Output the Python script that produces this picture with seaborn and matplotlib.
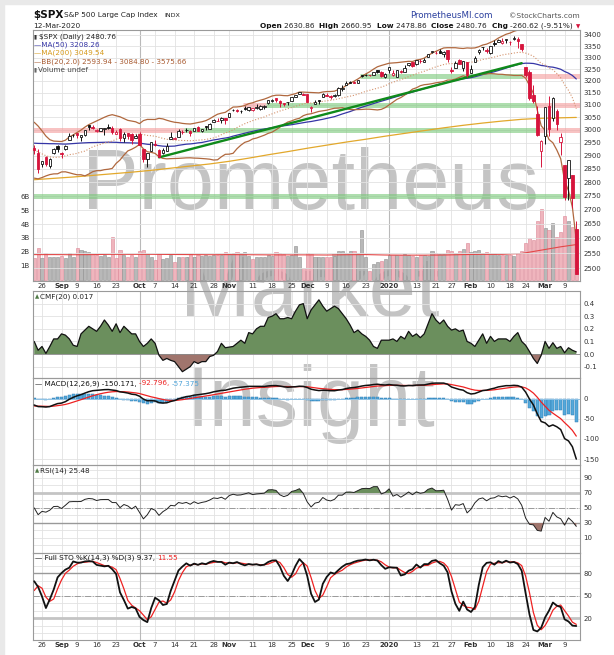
import numpy as np
import pandas as pd
import matplotlib
matplotlib.use('Agg')
import matplotlib.pyplot as plt
from matplotlib.ticker import NullLocator
from matplotlib.patches import Rectangle
import seaborn as sns

# ---------------- data ----------------
holidays = ['2019-09-02', '2019-11-28', '2019-12-25', '2020-01-01', '2020-01-20', '2020-02-17']
dates = pd.bdate_range('2019-08-22', '2020-03-12', freq='C', holidays=holidays)

# closes before the window, used only to seed the indicators
warm_close_early = [2879.84, 2891.64, 2886.98, 2889.67, 2917.75, 2926.46, 2954.18, 2950.46, 2945.35, 2917.38,
                    2913.78, 2924.92, 2941.76, 2964.33, 2973.01, 2995.82, 2990.41, 2975.95, 2979.63, 2993.07,
                    2999.91, 3013.77, 3014.30, 3004.04, 2984.42, 2995.11, 2976.61, 2985.03, 3005.47, 3019.56]
warm_close = [3003.67, 3025.86, 3020.97, 3013.18, 2980.38, 2953.56, 2932.05, 2844.74, 2881.77, 2883.98,
              2938.09, 2918.65, 2882.70, 2926.32, 2840.60, 2847.60, 2888.68, 2923.65, 2900.51, 2924.43]
warm_high = [3016.3, 3027.98, 3025.6, 3017.2, 3017.4, 3013.6, 2945.5, 2898.1, 2884.4, 2892.2,
             2938.7, 2935.8, 2907.6, 2943.3, 2893.9, 2865.9, 2893.6, 2931.0, 2927.0, 2928.7]
warm_low = [2997.2, 3012.6, 3014.3, 3000.9, 2958.1, 2945.2, 2914.1, 2822.1, 2847.4, 2825.7,
            2894.5, 2900.2, 2873.1, 2877.1, 2839.6, 2825.7, 2865.3, 2913.5, 2899.6, 2917.9]

open_ = [2930.9, 2911.1, 2866.7, 2893.1, 2861.3, 2910.4, 2937.1,
         2909.0, 2924.7, 2960.6, 2980.3, 2988.4, 2971.0, 2981.4, 3018.2, 3012.2, 2996.4, 2995.7, 3001.5, 3010.4, 3008.4, 2983.5, 3002.4, 2968.4, 2985.7, 2985.5, 2967.1,
         2983.7, 2924.8, 2885.4, 2918.6, 2944.2, 2920.4, 2911.1, 2918.6, 2963.1, 2965.8, 2973.6, 2989.7, 3000.8, 2996.8, 2996.5, 3010.7, 2994.0, 3014.8, 3003.3, 3032.1, 3035.4, 3039.7, 3046.9,
         3050.7, 3078.9, 3080.8, 3075.1, 3087.0, 3081.3, 3080.3, 3089.3, 3084.2, 3090.8, 3107.9, 3117.9, 3127.5, 3114.7, 3108.5, 3111.4, 3117.4, 3134.9, 3145.5, 3147.2,
         3143.9, 3087.4, 3103.5, 3119.2, 3134.6, 3141.9, 3135.4, 3135.8, 3141.2, 3166.7, 3183.6, 3195.4, 3195.2, 3192.3, 3223.3, 3226.1, 3225.4, 3227.2, 3247.2, 3240.1, 3215.2,
         3244.7, 3226.4, 3217.6, 3241.9, 3238.6, 3266.0, 3281.0, 3271.1, 3285.4, 3282.3, 3303.0, 3323.7, 3321.0, 3330.0, 3315.8, 3333.1, 3247.2, 3255.4, 3289.5, 3256.5, 3282.3,
         3235.7, 3280.6, 3324.9, 3344.9, 3335.5, 3318.3, 3365.9, 3370.5, 3365.9, 3378.1, 3369.0, 3380.4, 3380.5, 3360.5, 3257.6, 3238.9, 3139.9, 3062.5, 2916.9,
         2974.3, 3096.5, 3045.8, 3075.7, 2954.2, 2863.9, 2813.5, 2825.6, 2630.86]
high = [2939.1, 2927.0, 2879.3, 2898.8, 2890.0, 2930.5, 2940.4,
        2914.4, 2938.8, 2985.9, 2985.0, 2989.4, 2979.4, 3000.95, 3020.7, 3017.3, 3002.2, 3006.2, 3007.8, 3021.4, 3016.4, 2999.2, 3007.9, 2989.8, 2987.3, 2987.3, 2983.9,
        2992.5, 2924.8, 2911.1, 2953.7, 2959.8, 2925.5, 2929.3, 2948.5, 2993.3, 2972.8, 3003.3, 2997.5, 3008.3, 3000.0, 3007.3, 3014.6, 3005.0, 3016.1, 3027.4, 3044.1, 3047.9, 3050.1, 3046.9,
        3066.95, 3085.2, 3083.9, 3078.3, 3097.8, 3093.1, 3088.3, 3102.6, 3098.1, 3098.2, 3120.5, 3124.2, 3127.6, 3119.0, 3110.1, 3112.9, 3133.8, 3142.7, 3154.3, 3150.3,
        3144.3, 3095.0, 3119.4, 3119.4, 3150.6, 3148.9, 3142.1, 3144.0, 3176.3, 3182.7, 3197.7, 3198.2, 3198.5, 3205.5, 3225.6, 3227.8, 3226.4, 3240.1, 3247.9, 3240.9, 3231.7,
        3258.1, 3246.2, 3246.8, 3244.9, 3267.1, 3275.6, 3283.0, 3288.15, 3294.2, 3298.7, 3317.1, 3329.9, 3329.8, 3337.8, 3326.9, 3333.2, 3258.9, 3285.8, 3293.5, 3285.9, 3282.3,
        3268.4, 3306.9, 3337.6, 3348.0, 3341.4, 3352.3, 3375.6, 3381.5, 3385.1, 3380.7, 3375.0, 3393.5, 3389.2, 3360.8, 3259.8, 3247.0, 3182.5, 3097.1, 2959.7,
        3091.0, 3136.7, 3131.0, 3083.0, 2985.9, 2863.9, 2882.6, 2825.6, 2660.95]
low = [2904.5, 2834.97, 2856.0, 2860.6, 2853.1, 2905.7, 2913.3,
       2891.9, 2921.9, 2960.6, 2972.5, 2969.4, 2957.0, 2975.3, 3000.9, 3002.9, 2990.7, 2993.7, 2978.6, 3003.2, 2984.7, 2982.2, 2957.7, 2952.9, 2963.7, 2945.5, 2967.1,
       2938.7, 2874.9, 2855.9, 2918.6, 2935.7, 2892.7, 2907.4, 2917.1, 2963.1, 2962.9, 2973.6, 2985.2, 2991.8, 2976.3, 2995.4, 2995.0, 2991.2, 3000.4, 3001.9, 3032.1, 3034.8, 3025.9, 3023.2,
       3050.7, 3074.9, 3072.2, 3065.9, 3080.2, 3073.6, 3075.8, 3084.7, 3078.8, 3083.3, 3104.6, 3112.1, 3113.5, 3091.4, 3094.6, 3099.3, 3117.4, 3131.0, 3143.4, 3139.3,
       3110.8, 3070.3, 3102.5, 3103.8, 3134.6, 3135.5, 3126.1, 3133.2, 3138.5, 3156.5, 3183.6, 3191.0, 3191.1, 3192.3, 3216.0, 3222.3, 3220.5, 3227.2, 3234.4, 3216.6, 3212.0,
       3235.5, 3222.3, 3214.6, 3232.4, 3236.7, 3263.7, 3260.9, 3268.4, 3277.1, 3280.7, 3303.0, 3318.9, 3316.6, 3320.0, 3301.9, 3281.5, 3234.5, 3253.2, 3271.9, 3242.8, 3214.7,
       3235.7, 3280.6, 3313.8, 3334.4, 3322.1, 3317.8, 3352.7, 3369.7, 3360.5, 3366.2, 3355.6, 3378.8, 3341.0, 3328.5, 3214.7, 3118.8, 3109.0, 2977.4, 2855.8,
       2945.2, 2976.6, 3034.4, 2999.8, 2901.5, 2734.4, 2734.0, 2707.2, 2478.86]
close = [2922.95, 2847.11, 2878.38, 2869.16, 2887.94, 2924.58, 2926.46,
         2906.27, 2937.78, 2976.00, 2978.71, 2978.43, 2979.39, 3000.93, 3009.57, 3007.39, 2997.96, 3005.70, 3006.73, 3006.79, 2992.07, 2991.78, 2966.60, 2984.87, 2977.62, 2961.79, 2976.74,
         2940.25, 2887.61, 2910.63, 2952.01, 2938.79, 2893.06, 2919.40, 2938.13, 2970.27, 2966.15, 2995.68, 2989.69, 2997.95, 2986.20, 3006.72, 2995.99, 3004.52, 3010.29, 3022.55, 3039.42, 3036.89, 3046.77, 3037.56,
         3066.91, 3078.27, 3074.62, 3076.78, 3085.18, 3093.08, 3087.01, 3091.84, 3094.04, 3096.63, 3120.46, 3122.03, 3120.18, 3108.46, 3103.54, 3110.29, 3133.64, 3140.52, 3153.63, 3140.98,
         3113.87, 3093.20, 3112.76, 3117.43, 3145.91, 3135.96, 3132.52, 3141.63, 3168.57, 3168.80, 3191.45, 3192.52, 3191.14, 3205.37, 3221.22, 3224.01, 3223.38, 3239.91, 3240.02, 3221.29, 3230.78,
         3257.85, 3234.85, 3246.28, 3237.18, 3253.05, 3274.70, 3265.35, 3288.13, 3283.15, 3289.29, 3316.81, 3329.62, 3320.79, 3321.75, 3325.54, 3295.47, 3243.63, 3276.24, 3273.40, 3283.66, 3225.52,
         3248.92, 3297.59, 3334.69, 3345.78, 3327.71, 3352.09, 3357.75, 3379.45, 3373.94, 3380.16, 3370.29, 3386.15, 3373.23, 3337.75, 3225.89, 3128.21, 3116.39, 2978.76, 2954.22,
         3090.23, 3003.37, 3130.12, 3023.94, 2972.37, 2746.56, 2882.23, 2741.38, 2480.76]
volume_b = [1.55, 2.3, 1.55, 1.95, 1.6, 1.6, 1.65, 1.7, 1.55, 1.9,
            1.6, 2.25, 2.15, 2.05, 2.0, 1.85, 1.8, 1.7, 1.75, 1.65,
            3.1, 1.55, 2.1, 1.75, 1.6, 1.75, 1.6, 2.05, 2.1, 1.85,
            1.6, 1.4, 1.85, 1.5, 1.55, 1.8, 1.3, 1.65, 1.6, 1.6,
            1.85, 1.6, 1.75, 1.7, 1.75, 1.7, 1.8, 1.75, 1.8, 2.0,
            1.85, 1.95, 2.0, 1.95, 2.0, 1.7, 1.5, 1.6, 1.6, 1.6,
            1.8, 1.7, 2.0, 1.95, 1.85, 1.7, 1.75, 2.4, 1.65, 0.85,
            1.9, 1.85, 1.65, 1.6, 1.6, 1.65, 1.6, 1.7, 2.05, 2.05,
            1.95, 2.05, 2.05, 1.95, 3.6, 1.6, 0.6, 1.15, 1.25, 1.35,
            1.5, 1.75, 1.75, 1.75, 1.8, 1.85, 1.8, 1.7, 1.65, 1.8,
            1.75, 1.7, 2.05, 1.95, 1.85, 1.85, 2.1, 2.05, 1.95, 2.05,
            2.2, 2.6, 2.0, 2.05, 2.15, 1.95, 2.0, 1.85, 1.85, 1.8,
            1.8, 1.75, 1.75, 1.7, 1.9, 2.05, 2.6, 3.0, 2.85, 4.2,
            5.1, 3.7, 3.6, 4.1, 3.1, 3.4, 4.6, 4.2, 3.8, 3.6]
cmf20 = [0.10, 0.03, 0.06, 0.005, 0.06, 0.12, 0.12, 0.16, 0.15, 0.12,
         0.07, 0.06, 0.16, 0.19, 0.22, 0.20, 0.18, 0.22, 0.27, 0.23,
         0.18, 0.24, 0.17, 0.22, 0.19, 0.16, 0.16, 0.10, 0.06, 0.085,
         0.12, 0.085, -0.01, -0.05, -0.035, -0.05, -0.06, -0.10, -0.14, -0.12,
         -0.10, -0.06, -0.075, -0.06, -0.06, -0.02, -0.01, 0.02, 0.085, 0.05,
         0.055, 0.06, 0.085, 0.11, 0.085, 0.17, 0.16, 0.20, 0.22, 0.22,
         0.29, 0.30, 0.32, 0.28, 0.28, 0.29, 0.28, 0.34, 0.39, 0.40,
         0.28, 0.35, 0.39, 0.43, 0.38, 0.34, 0.36, 0.38, 0.36, 0.32,
         0.28, 0.23, 0.17, 0.19, 0.16, 0.14, 0.11, 0.06, 0.045, 0.11,
         0.11, 0.11, 0.12, 0.10, 0.14, 0.12, 0.18, 0.14, 0.16, 0.13,
         0.16, 0.24, 0.32, 0.27, 0.24, 0.27, 0.22, 0.19, 0.20, 0.18,
         0.19, 0.10, 0.085, 0.06, 0.11, 0.16, 0.085, 0.14, 0.10, 0.12,
         0.12, 0.12, 0.10, 0.14, 0.17, 0.10, 0.07, 0.02, -0.035, -0.075,
         -0.01, 0.10, 0.045, 0.09, 0.045, 0.06, 0.01, 0.05, 0.03, 0.017]
# weekly samples (every 5th trading day, plus the last day)
ma200_weekly = [2809, 2814, 2819, 2825, 2831, 2837, 2844, 2852, 2860, 2868, 2878, 2890, 2903, 2915, 2928,
                2940, 2952, 2963, 2975, 2986, 2997, 3008, 3018, 3027, 3035, 3042, 3046, 3048, 3049.54]
volma_weekly = [1.80, 1.80, 1.79, 1.80, 1.82, 1.82, 1.82, 1.81, 1.80, 1.79, 1.80, 1.79, 1.78, 1.78, 1.78,
                1.77, 1.79, 1.80, 1.77, 1.76, 1.76, 1.77, 1.80, 1.82, 1.82, 1.88, 2.12, 2.36, 2.52]

tick_dates = ['2019-08-26', '2019-09-03', '2019-09-09', '2019-09-16', '2019-09-23', '2019-10-01', '2019-10-07',
              '2019-10-14', '2019-10-21', '2019-10-28', '2019-11-01', '2019-11-11', '2019-11-18', '2019-11-25',
              '2019-12-02', '2019-12-09', '2019-12-16', '2019-12-23', '2020-01-02', '2020-01-13', '2020-01-21',
              '2020-01-27', '2020-02-03', '2020-02-10', '2020-02-18', '2020-02-24', '2020-03-02', '2020-03-09']
tick_labels = ['26', 'Sep', '9', '16', '23', 'Oct', '7', '14', '21', '28', 'Nov', '11', '18', '25', 'Dec', '9',
               '16', '23', '2020', '13', '21', '27', 'Feb', '10', '18', '24', 'Mar', '9']
month_labels = {'Sep', 'Oct', 'Nov', 'Dec', '2020', 'Feb', 'Mar'}

# support / resistance bands and trend line (price level, from day, to day, colour)
bands = [(3000, -3, 36.5, 'r'), (3000, 36.5, 127.4, 'g'), (3000, 127.4, 139, 'r'),
         (3100, 51.5, 57.5, 'r'), (3100, 57.5, 126.5, 'g'), (3100, 126.5, 139, 'r'),
         (3220, 81.5, 123.4, 'g'), (3220, 123.4, 139, 'r'), (2750, -3, 139, 'g')]
trend = ((30, 2893), (123, 3276))

assert len(dates) == 140
for arr in (open_, high, low, close, volume_b, cmf20):
    assert len(arr) == 140

# ---------------- indicators ----------------
n = 140
xs = np.arange(n) - 2
O, Hh, L, C = map(np.array, (open_, high, low, close))
V = np.array(volume_b)
c_all = pd.Series(warm_close_early + warm_close + close)
ma50 = c_all.rolling(50).mean().values[-n:]
bb_mid = c_all.rolling(20).mean().values[-n:]
bb_sd = c_all.rolling(20).std(ddof=0).values[-n:]
bb_up, bb_lo = bb_mid + 2 * bb_sd, bb_mid - 2 * bb_sd
ema12 = c_all.ewm(span=12, adjust=False).mean()
ema26 = c_all.ewm(span=26, adjust=False).mean()
macd_s = ema12 - ema26
sig_s = macd_s.ewm(span=9, adjust=False).mean()
macd = macd_s.values[-n:]
sig = sig_s.values[-n:]
hist = macd - sig
dlt = c_all.diff()
ag = dlt.clip(lower=0).ewm(alpha=1 / 14, adjust=False).mean()
al = (-dlt.clip(upper=0)).ewm(alpha=1 / 14, adjust=False).mean()
rsi = (100 - 100 / (1 + ag / al)).values[-n:]
h2 = pd.Series(warm_high + high); l2 = pd.Series(warm_low + low); c2 = pd.Series(warm_close + close)
fk = 100 * (c2 - l2.rolling(14).min()) / (h2.rolling(14).max() - l2.rolling(14).min())
stok = fk.rolling(3).mean()
stod = stok.rolling(3).mean()
stok = stok.values[-n:]; stod = stod.values[-n:]
prev_c = np.concatenate([[warm_close[-1]], C[:-1]])
cmf = np.array(cmf20)
wk_x = np.concatenate([xs[::5], [xs[-1]]])

tick_pos = [int(xs[dates.get_loc(pd.Timestamp(d))]) for d in tick_dates]

# ---------------- figure ----------------
sns.set_theme(style='white')
plt.rcParams['font.family'] = ['DejaVu Sans']
W, Hp = 614, 655
fig = plt.figure(figsize=(W / 100, Hp / 100), dpi=100, facecolor='white')
fig.patches.append(Rectangle((0, 1 - 4 / Hp), 1, 4 / Hp, transform=fig.transFigure, color='#e9e9e9', zorder=0))
fig.patches.append(Rectangle((0, 0), 4 / W, 1, transform=fig.transFigure, color='#e9e9e9', zorder=0))

XL, XR = 33, 580
XMIN, XMAX = -2.31, 137.95
RED = '#d6143c'
GRID = '#e2e2e2'
SPINE = '#9a9a9a'


def rect(top, bottom):
    return [XL / W, 1 - bottom / Hp, (XR - XL) / W, (bottom - top) / Hp]


def style(ax, yt, ylab, show_x=False, vgrid=True, minor=()):
    ax.set_facecolor('none')
    ax.set_xlim(XMIN, XMAX)
    ax.set_xticks(tick_pos)
    if show_x:
        tl = ax.set_xticklabels(tick_labels, fontsize=5, color='#333333')
        for t, lab in zip(tl, tick_labels):
            if lab in month_labels:
                t.set_fontweight('bold')
    else:
        ax.set_xticklabels([])
    ax.tick_params(axis='x', length=0, pad=1.2)
    ax.yaxis.tick_right()
    ax.set_yticks(yt)
    ax.set_yticklabels(ylab, fontsize=5, color='#333333')
    ax.yaxis.set_minor_locator(NullLocator())
    ax.tick_params(axis='y', length=0, pad=2.5)
    ax.grid(False)
    for v in list(yt) + list(minor):
        ax.axhline(v, color=GRID, lw=0.6, zorder=0.2)
    if vgrid:
        for p in tick_pos:
            ax.axvline(p, color=GRID, lw=0.6, zorder=0.2)
        for p in (tick_pos[5], tick_pos[18]):
            ax.axvline(p, color='#b9b9b9', lw=0.8, zorder=0.3)
    for s in ax.spines.values():
        s.set_color(SPINE); s.set_linewidth(0.8)


# ---- main price panel with volume underneath ----
axv = fig.add_axes(rect(30, 281))
axv.set_facecolor('none')
axv.set_xlim(XMIN, XMAX)
axv.set_ylim(-0.1, 17.96)
for p in tick_pos:
    axv.axvline(p, color=GRID, lw=0.6, zorder=0.2)
for p in (tick_pos[5], tick_pos[18]):
    axv.axvline(p, color='#b9b9b9', lw=0.8, zorder=0.3)
down = C < prev_c
axv.bar(xs, V, width=0.8, color=np.where(down, '#efb5bd', '#b8b8b8'),
        edgecolor=np.where(down, '#dc8595', '#8e8e8e'), linewidth=0.4, zorder=1)
sns.lineplot(x=wk_x, y=volma_weekly, ax=axv, color='#e34848', linewidth=0.8, zorder=2)
axv.set_xticks([])
axv.yaxis.tick_left()
axv.set_yticks([1, 2, 3, 4, 5, 6])
axv.set_yticklabels(['1B', '2B', '3B', '4B', '5B', '6B'], fontsize=5, color='#333333')
axv.tick_params(axis='y', length=0, pad=2.5)
for s in axv.spines.values():
    s.set_visible(False)

ax = fig.add_axes(rect(30, 281))
ax.set_yscale('log')
ax.set_ylim(2457.5, 3422.5)
pt = list(range(2500, 3401, 50))
style(ax, pt, [str(v) for v in pt], show_x=True, vgrid=False)
ax.xaxis.set_minor_locator(NullLocator())

for lvl, a, b, c in bands:
    ax.hlines(lvl, max(a, XMIN), min(b, XMAX), colors='#79c879' if c == 'g' else '#f49c9c',
              linewidth=3.6, alpha=0.6, zorder=1)

sns.lineplot(x=wk_x, y=ma200_weekly, ax=ax, color='#e2a82c', linewidth=0.9, zorder=2)
sns.lineplot(x=xs, y=ma50, ax=ax, color='#3535a6', linewidth=0.9, zorder=2)
ax.plot(xs, bb_up, color='#b0683e', lw=0.9, zorder=2)
ax.plot(xs, bb_lo, color='#b0683e', lw=0.9, zorder=2)
ax.plot(xs, bb_mid, color='#d4926c', lw=0.8, ls=(0, (1, 1.6)), zorder=2)
ax.plot([trend[0][0], trend[1][0]], [trend[0][1], trend[1][1]], color='#0f8a1a', lw=1.7, zorder=3)

col = np.where(down, RED, '#111111')
hollow = C > O
ax.vlines(xs, L, Hh, colors=col, linewidth=0.7, zorder=4)
bot = np.minimum(O, C)
hgt = np.maximum(np.abs(C - O), 0.6)
ax.bar(xs, hgt, bottom=bot, width=0.62, color=np.where(hollow, 'white', col),
       edgecolor=col, linewidth=0.6, zorder=5)

# ---- CMF ----
ax1 = fig.add_axes(rect(291, 378))
ax1.set_ylim(-0.19, 0.5)
style(ax1, [-0.1, 0.0, 0.1, 0.2, 0.3, 0.4], ['-0.1', '0.0', '0.1', '0.2', '0.3', '0.4'])
ax1.fill_between(xs, cmf, 0, where=cmf >= 0, interpolate=True, color='#6b8f5d', zorder=1, linewidth=0)
ax1.fill_between(xs, cmf, 0, where=cmf <= 0, interpolate=True, color='#a0756d', zorder=1, linewidth=0)
ax1.axhline(0, color='#8a8a8a', lw=0.6, zorder=1.5)
sns.lineplot(x=xs, y=cmf, ax=ax1, color='#111111', linewidth=0.9, zorder=2)

# ---- MACD ----
ax2 = fig.add_axes(rect(378, 465))
ax2.set_ylim(-165, 52.5)
style(ax2, [-150, -100, -50, 0], ['-150', '-100', '-50', '0'])
ax2.bar(xs, hist, width=0.78, color='#55a8da', edgecolor='#2f7fb6', linewidth=0.35, zorder=1)
ax2.axhline(0, color='#8fc3e6', lw=0.7, zorder=1.2)
sns.lineplot(x=xs, y=sig, ax=ax2, color='#ee2222', linewidth=0.9, zorder=2)
sns.lineplot(x=xs, y=macd, ax=ax2, color='#111111', linewidth=1.1, zorder=3)

# ---- RSI ----
ax3 = fig.add_axes(rect(465, 553))
ax3.set_ylim(-10, 107.3)
style(ax3, [10, 30, 50, 70, 90], ['10', '30', '50', '70', '90'], minor=[0, 20, 40, 60, 80, 100])
ax3.axhline(70, color='#c4c4c4', lw=2.0, zorder=1)
ax3.axhline(30, color='#999999', lw=1.0, zorder=1)
ax3.axhline(50, color='#9a9a9a', lw=0.7, ls='-.', zorder=1)
ax3.fill_between(xs, rsi, 70, where=rsi >= 70, interpolate=True, color='#6b8f5d', zorder=1.5, linewidth=0)
ax3.fill_between(xs, rsi, 30, where=rsi <= 30, interpolate=True, color='#a0756d', zorder=1.5, linewidth=0)
sns.lineplot(x=xs, y=rsi, ax=ax3, color='#222222', linewidth=0.7, zorder=2)

# ---- Stochastics ----
ax4 = fig.add_axes(rect(553, 640))
ax4.set_ylim(-9.3, 106.7)
style(ax4, [20, 50, 80], ['20', '50', '80'], show_x=True, minor=[0, 10, 30, 40, 60, 70, 90, 100])
ax4.axhline(80, color='#999999', lw=1.0, zorder=1)
ax4.axhline(20, color='#c4c4c4', lw=2.0, zorder=1)
ax4.axhline(50, color='#9a9a9a', lw=0.7, ls='-.', zorder=1)
sns.lineplot(x=xs, y=stod, ax=ax4, color='#ee2222', linewidth=0.9, zorder=2)
sns.lineplot(x=xs, y=stok, ax=ax4, color='#111111', linewidth=1.3, zorder=3)

for a in (ax, ax1, ax2, ax3, ax4, axv):
    leg = a.get_legend()
    if leg:
        leg.remove()
    a.set_xlabel(''); a.set_ylabel('')

# ---------------- texts ----------------
renderer = fig.canvas.get_renderer()


def put(xp, yp, s, **kw):
    return fig.text(xp / W, 1 - yp / Hp, s, va='center', **kw)


def seq(xp, yp, pieces, size, align='left'):
    texts = [put(0, yp, s, color=c, fontsize=size, fontweight=wt) for s, c, wt in pieces]
    widths = [t.get_window_extent(renderer).width for t in texts]
    x = xp - sum(widths) if align == 'right' else xp
    for t, w in zip(texts, widths):
        t.set_x(x / W)
        x += w


put(33, 15.5, r'\$SPX', fontsize=7.5, fontweight='bold', color='#111111')
put(64, 15.5, 'S&P 500 Large Cap Index', fontsize=5.3, color='#222222')
put(164, 15.5, 'INDX', fontsize=4.6, color='#222222')
put(33, 26, '12-Mar-2020', fontsize=5.3, color='#222222')
put(410, 16, 'PrometheusMI.com', fontsize=6.2, color='#2a3f9e')
put(580, 16, '\u00a9StockCharts.com', fontsize=5.4, color='#555555', ha='right')
seq(573, 26, [('Open ', '#111', 'bold'), ('2630.86  ', '#222', 'normal'),
              ('High ', '#111', 'bold'), ('2660.95  ', '#222', 'normal'),
              ('Low ', '#111', 'bold'), ('2478.86  ', '#222', 'normal'),
              ('Close ', '#111', 'bold'), ('2480.76  ', '#222', 'normal'),
              ('Chg ', '#111', 'bold'), ('-260.62 (-9.51%)', '#222', 'normal')], 5.3, align='right')
put(580, 26.5, '\u25bc', fontsize=4, color=RED, ha='right')

put(34, 36.5, '\u25ae', fontsize=4, color='#333333')
put(39, 36.5, r'\$SPX (Daily) 2480.76', fontsize=5.2, color='#222222')
put(34, 44.8, '\u2014MA(50) 3208.26', fontsize=5.2, color='#3535a6')
put(34, 53.2, '\u2014MA(200) 3049.54', fontsize=5.2, color='#d69a1c')
put(34, 61.5, '\u2014BB(20,2.0) 2593.94 - 3084.80 - 3575.66', fontsize=5.2, color='#a85a30')
put(34, 69.9, '\u25ae', fontsize=4, color='#666666')
put(38.5, 69.9, 'Volume undef', fontsize=5.2, color='#444444')

put(35, 297, '\u25b2', fontsize=4, color='#4f7a45')
put(40, 297, 'CMF(20) 0.017', fontsize=5.2, color='#222222')
seq(35, 383.5, [('\u2014 MACD(12,26,9) -150.171, ', '#111', 'normal'), ('-92.796, ', '#ee2222', 'normal'),
                ('-57.375', '#4fa3d8', 'normal')], 5.2)
put(35, 470.5, '\u25b2', fontsize=4, color='#4f7a45')
put(40, 470.5, 'RSI(14) 25.48', fontsize=5.2, color='#222222')
seq(35, 558, [('\u2014 Full STO %K(14,3) %D(3) 9.37, ', '#111', 'normal'), ('11.55', '#ee2222', 'normal')], 5.2)

# watermark, drawn behind the (transparent) panels
for word, base in (('Prometheus', 209), ('Market', 316), ('Insight', 426)):
    fig.text(310 / W, 1 - base / Hp, word, fontsize=61, family='Liberation Sans', color='#c4c4c4',
             ha='center', va='baseline', zorder=-1)

fig.savefig('out.png', dpi=100, facecolor='white')
